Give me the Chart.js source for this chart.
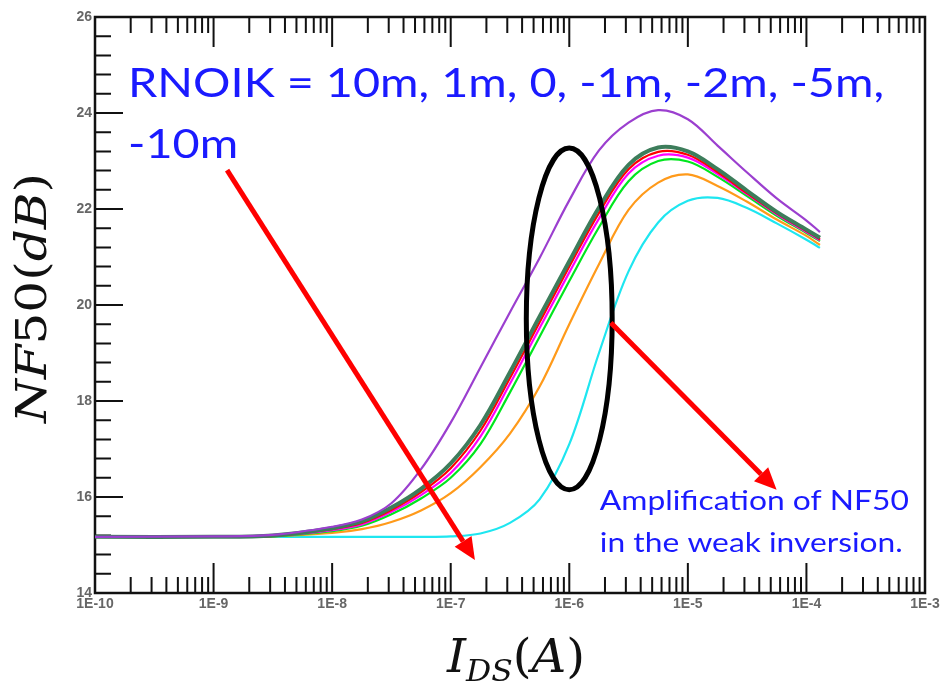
<!DOCTYPE html>
<html>
<head>
<meta charset="utf-8">
<script src="https://cdn.jsdelivr.net/npm/chart.js@4.4.1/dist/chart.umd.min.js"></script>
<style>
  html, body { margin: 0; padding: 0; background: #fff; }
</style>
</head>
<body>
<canvas id="grafico-nf50" width="944" height="690"></canvas>
<script>
// corrente de dreno (A) e NF50 (dB)
const corrente = [1e-10, 1e-9, 3.16e-9, 1e-8, 1.78e-8, 3.16e-8, 5.62e-8, 1e-7, 1.78e-7, 3.16e-7, 5.62e-7,
  1e-6, 1.78e-6, 3.16e-6, 5.62e-6, 1e-5, 1.78e-5, 3.16e-5, 5.62e-5, 1e-4, 1.3e-4];

const nfRnoik10m  = [15.17, 15.18, 15.21, 15.38, 15.53, 15.87, 16.58, 17.55, 18.7, 19.85, 20.98, 22.18, 23.22, 23.8, 24.06, 23.87, 23.32, 22.76, 22.22, 21.76, 21.52];
const nfRnoik1m   = [15.17, 15.17, 15.2, 15.35, 15.49, 15.78, 16.17, 16.7, 17.5, 18.6, 19.76, 20.91, 22.03, 22.92, 23.28, 23.2, 22.83, 22.38, 21.94, 21.57, 21.4];
const nfRnoik0    = [15.17, 15.17, 15.19, 15.33, 15.46, 15.73, 16.1, 16.6, 17.38, 18.48, 19.64, 20.8, 21.92, 22.83, 23.19, 23.13, 22.77, 22.33, 21.91, 21.54, 21.37];
const nfRnoikM1m  = [15.17, 15.17, 15.19, 15.31, 15.43, 15.69, 16.04, 16.5, 17.26, 18.36, 19.52, 20.68, 21.8, 22.74, 23.11, 23.07, 22.73, 22.31, 21.89, 21.52, 21.35];
const nfRnoikM2m  = [15.17, 15.17, 15.18, 15.29, 15.4, 15.64, 15.97, 16.4, 17.1, 18.18, 19.34, 20.5, 21.62, 22.58, 23.0, 22.99, 22.67, 22.27, 21.86, 21.5, 21.33];
const nfRnoikM5m  = [15.17, 15.17, 15.18, 15.25, 15.33, 15.48, 15.72, 16.08, 16.62, 17.32, 18.3, 19.6, 20.85, 21.98, 22.55, 22.72, 22.48, 22.15, 21.78, 21.44, 21.25];
const nfRnoikM10m = [15.17, 15.17, 15.17, 15.17, 15.17, 15.17, 15.17, 15.18, 15.24, 15.46, 15.95, 17.1, 19.0, 20.7, 21.72, 22.17, 22.23, 22.02, 21.7, 21.36, 21.19];

const rnoik = ["10m", "1m", "0", "-1m", "-2m", "-5m", "-10m"];
const series = [nfRnoik10m, nfRnoik1m, nfRnoik0, nfRnoikM1m, nfRnoikM2m, nfRnoikM5m, nfRnoikM10m];

const decadas = [1e-10, 1e-9, 1e-8, 1e-7, 1e-6, 1e-5, 1e-4, 1e-3];
const rotulosX = ["1E-10", "1E-9", "1E-8", "1E-7", "1E-6", "1E-5", "1E-4", "1E-3"];
const rotulosY = [14, 16, 18, 20, 22, 24, 26];

const cores = ["#9b3fcf", "#3d7d5b", "#ff0000", "#ff00ff", "#00e61e", "#ff9a1a", "#1ee6f0"];
const larguras = [2.2, 4, 2.2, 2.2, 2.2, 2.2, 2.2];

const serif = "'DejaVu Serif', serif";
const azul = "#1a1aff";

function desenharTrechos(ctx, trechos, x, y, largura, centro) {
  let total = 0;
  trechos.forEach(p => { ctx.font = p.font; p.w = ctx.measureText(p.t).width; total += p.w; });
  const esc = largura ? largura / total : 1;
  ctx.save();
  ctx.translate(x, y);
  ctx.scale(esc, 1);
  let cx = centro ? -total / 2 : 0;
  ctx.textAlign = "left";
  ctx.textBaseline = "alphabetic";
  trechos.forEach(p => { ctx.font = p.font; ctx.fillText(p.t, cx, p.dy || 0); cx += p.w; });
  ctx.restore();
}

function seta(ctx, x1, y1, x2, y2) {
  const ang = Math.atan2(y2 - y1, x2 - x1);
  const cab = 22, larg = 10;
  const bx = x2 - cab * Math.cos(ang), by = y2 - cab * Math.sin(ang);
  ctx.beginPath(); ctx.moveTo(x1, y1); ctx.lineTo(bx, by); ctx.stroke();
  ctx.beginPath();
  ctx.moveTo(x2, y2);
  ctx.lineTo(bx + larg * Math.sin(ang), by - larg * Math.cos(ang));
  ctx.lineTo(bx - larg * Math.sin(ang), by + larg * Math.cos(ang));
  ctx.closePath();
  ctx.fill();
}

const moldura = {
  id: "moldura",
  beforeDatasetsDraw(chart) {
    const { ctx, chartArea: a, scales } = chart;
    const sx = scales.x, sy = scales.y;
    const tick = (x1, y1, x2, y2) => { ctx.moveTo(x1, y1); ctx.lineTo(x2, y2); };
    ctx.save();
    ctx.strokeStyle = "#111";
    ctx.lineWidth = 2;
    ctx.beginPath();
    rotulosY.forEach((v, i) => {
      const py = sy.getPixelForValue(v);
      tick(a.left, py, a.left + 28, py);
      if (i < rotulosY.length - 1) {
        const passo = (rotulosY[i + 1] - v) / 5;
        for (let k = 1; k < 5; k++) {
          const pm = sy.getPixelForValue(v + k * passo);
          tick(a.left, pm, a.left + 16, pm);
        }
      }
    });
    decadas.forEach((d, i) => {
      const px = sx.getPixelForValue(d);
      tick(px, a.bottom, px, a.bottom - 30);
      tick(px, a.top, px, a.top + 30);
      if (i < decadas.length - 1) {
        for (let k = 2; k < 10; k++) {
          const pm = sx.getPixelForValue(d * k);
          tick(pm, a.bottom, pm, a.bottom - 16);
          tick(pm, a.top, pm, a.top + 16);
        }
      }
    });
    ctx.stroke();
    ctx.lineWidth = 2.5;
    ctx.strokeRect(a.left, a.top, a.right - a.left, a.bottom - a.top);

    ctx.fillStyle = "#666";
    ctx.font = "bold 14px 'Liberation Sans', Arial, sans-serif";
    ctx.textAlign = "right";
    ctx.textBaseline = "middle";
    rotulosY.forEach(v => ctx.fillText(String(v), a.left - 3, sy.getPixelForValue(v)));
    ctx.textAlign = "center";
    ctx.textBaseline = "top";
    decadas.forEach((d, i) => ctx.fillText(rotulosX[i], sx.getPixelForValue(d), a.bottom + 4));

    // titulos dos eixos
    ctx.fillStyle = "#111";
    desenharTrechos(ctx, [
      { t: "I", font: "italic 46px " + serif },
      { t: "DS", font: "italic 30px " + serif, dy: 9 },
      { t: "(", font: "46px " + serif },
      { t: "A", font: "italic 46px " + serif },
      { t: ")", font: "46px " + serif }
    ], (a.left + a.right) / 2 + 6, 672, 138, true);

    ctx.save();
    ctx.translate(46, 298);
    ctx.rotate(-Math.PI / 2);
    desenharTrechos(ctx, [
      { t: "NF", font: "italic 42px " + serif },
      { t: "50", font: "42px " + serif },
      { t: "(", font: "42px " + serif },
      { t: "dB", font: "italic 42px " + serif },
      { t: ")", font: "42px " + serif }
    ], 0, 0, 250, true);
    ctx.restore();
    ctx.restore();
  }
};

const notas = {
  id: "notas",
  afterDatasetsDraw(chart) {
    const { ctx, scales } = chart;
    const X = v => scales.x.getPixelForValue(v);
    const Y = v => scales.y.getPixelForValue(v);
    ctx.save();

    // elipse em torno de 1E-6
    const ex0 = X(4.34e-7), ex1 = X(2.3e-6), ey0 = Y(23.27), ey1 = Y(16.15);
    ctx.strokeStyle = "#000";
    ctx.lineWidth = 5;
    ctx.beginPath();
    ctx.ellipse((ex0 + ex1) / 2, (ey0 + ey1) / 2, (ex1 - ex0) / 2, (ey1 - ey0) / 2, 0, 0, Math.PI * 2);
    ctx.stroke();

    // setas vermelhas
    ctx.strokeStyle = "#ff0000";
    ctx.fillStyle = "#ff0000";
    ctx.lineWidth = 5;
    seta(ctx, X(1.3e-9), Y(22.81), X(1.6e-7), Y(14.69));
    seta(ctx, X(2.24e-6), Y(19.63), X(5.6e-5), Y(16.15));

    // textos azuis
    ctx.fillStyle = azul;
    const fonte1 = "40px Lato, 'Open Sans', sans-serif";
    ctx.font = fonte1;
    const linha1 = "RNOIK = " + rnoik.slice(0, 6).join(", ") + ",";
    const esc1 = 756 / ctx.measureText(linha1).width;
    const x1 = X(1.9e-10);
    desenharTrechos(ctx, [{ t: linha1, font: fonte1 }], x1, Y(24.33), 756, false);
    ctx.font = fonte1;
    const w2 = ctx.measureText(rnoik[6]).width * esc1;
    desenharTrechos(ctx, [{ t: rnoik[6], font: fonte1 }], x1, Y(23.06), w2, false);

    const fonte2 = "27px Lato, 'Open Sans', sans-serif";
    ctx.font = fonte2;
    const esc2 = 303 / ctx.measureText("in the weak inversion.").width;
    const xa = X(1.81e-6);
    const wa = ctx.measureText("Amplification of NF50").width * esc2;
    desenharTrechos(ctx, [{ t: "Amplification of NF50", font: fonte2 }], xa, Y(15.73), wa, false);
    desenharTrechos(ctx, [{ t: "in the weak inversion.", font: fonte2 }], xa, Y(14.85), 303, false);

    ctx.restore();
  }
};

const canvas = document.getElementById("grafico-nf50");
new Chart(canvas, {
  type: "line",
  data: {
    datasets: series.map((s, i) => ({
      label: "RNOIK = " + rnoik[i],
      data: corrente.map((c, k) => ({ x: c, y: s[k] })),
      borderColor: cores[i],
      borderWidth: larguras[i],
      pointRadius: 0,
      tension: 0.35,
      fill: false
    }))
  },
  options: {
    responsive: false,
    animation: false,
    devicePixelRatio: 1,
    layout: { padding: { left: 95, right: 19, top: 17, bottom: 97 } },
    scales: {
      x: { type: "logarithmic", min: 1e-10, max: 1e-3, display: false },
      y: { type: "linear", min: 14, max: 26, display: false }
    },
    plugins: { legend: { display: false }, tooltip: { enabled: false } }
  },
  plugins: [moldura, notas]
});
</script>
</body>
</html>
